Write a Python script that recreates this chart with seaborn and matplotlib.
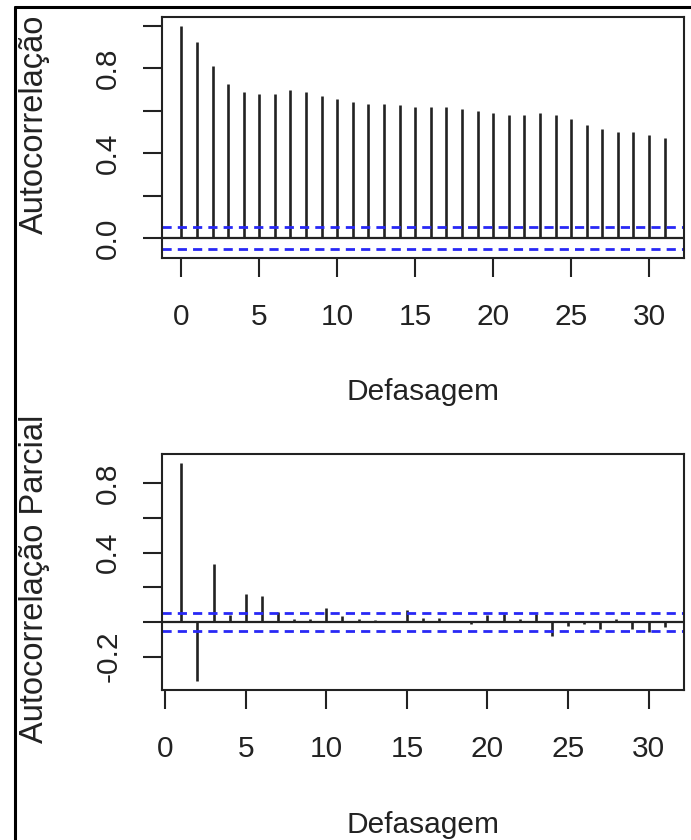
import numpy as np
import pandas as pd
import seaborn as sns
from matplotlib import pyplot as plt
from matplotlib.lines import Line2D

sns.set_theme(style="white")
plt.rcParams['font.family'] = ['Liberation Sans', 'DejaVu Sans']

INK = "#222222"
BLUE = "#2828F5"
FONT_SIZE = 21.5
YLABEL_SIZE = 23.5

# values (R acf / pacf output)
acf_lags = list(range(0, 32))
acf_values = [1.000, 0.926, 0.809, 0.724, 0.690, 0.679, 0.680, 0.699,
              0.690, 0.671, 0.654, 0.643, 0.633, 0.633, 0.625, 0.618,
              0.616, 0.616, 0.607, 0.597, 0.588, 0.580, 0.580, 0.588,
              0.580, 0.561, 0.533, 0.516, 0.498, 0.498, 0.487, 0.472]

pacf_lags = list(range(1, 32))
pacf_values = [0.919, -0.342, 0.335, 0.040, 0.164, 0.149, 0.059, 0.015,
               0.020, 0.082, 0.034, 0.020, 0.012, 0.003, 0.069, 0.025,
               0.025, 0.003, -0.012, 0.040, 0.044, 0.015, 0.044, -0.080,
               -0.023, -0.013, -0.038, 0.020, -0.038, -0.057, -0.027]

conf_bound = 0.052

x_ticks = [0, 5, 10, 15, 20, 25, 30]
acf_yticks = [0.0, 0.2, 0.4, 0.6, 0.8, 1.0]
acf_yticklabels = ["0.0", "", "0.4", "", "0.8", ""]
pacf_yticks = [-0.2, 0.0, 0.2, 0.4, 0.6, 0.8]
pacf_yticklabels = ["-0.2", "", "", "0.4", "", "0.8"]


def r_limits(lo, hi):
    # R style 4% expansion of the data range
    span = hi - lo
    return lo - 0.04 * span, hi + 0.04 * span


def draw_panel(ax, df, yticks, yticklabels, ylabel, ylabel_y, xlabel_y):
    ax.vlines(df["lag"], 0, df["value"], color=INK, lw=1.9)
    ax.axhline(0, color=INK, lw=1.6)
    for c in (conf_bound, -conf_bound):
        ax.axhline(c, color=BLUE, lw=2.0, linestyle=(0, (3.3, 2.2)))

    ax.set_xlim(*r_limits(df["lag"].min(), df["lag"].max()))
    lo = min(df["value"].min(), -conf_bound)
    hi = max(df["value"].max(), conf_bound)
    ax.set_ylim(*r_limits(lo, hi))

    ax.set_xticks(x_ticks)
    ax.set_xticklabels([str(t) for t in x_ticks])
    ax.set_yticks(yticks)
    ax.set_yticklabels(yticklabels, rotation=90, va="center")

    ax.tick_params(axis="both", direction="out", length=13.7, width=1.5,
                   color=INK, labelcolor=INK, labelsize=FONT_SIZE,
                   left=True, bottom=True)
    ax.tick_params(axis="x", pad=19)
    ax.tick_params(axis="y", pad=15)
    for s in ax.spines.values():
        s.set_color(INK)
        s.set_linewidth(1.5)
        s.set_visible(True)

    ax.set_xlabel("Defasagem", fontsize=FONT_SIZE, color=INK)
    ax.set_ylabel(ylabel, fontsize=YLABEL_SIZE, color=INK)
    ax.xaxis.set_label_coords(0.5, xlabel_y)
    ax.yaxis.set_label_coords(-0.214, ylabel_y)


acf_df = pd.DataFrame({"lag": acf_lags, "value": acf_values})
pacf_df = pd.DataFrame({"lag": pacf_lags, "value": pacf_values})

W, H = 691, 840
fig = plt.figure(figsize=(W / 100, H / 100), dpi=100)
fig.patch.set_facecolor("white")

ax1 = fig.add_axes([162 / W, (H - 258) / H, (684 - 162) / W, (258 - 17) / H])
ax2 = fig.add_axes([162 / W, (H - 690) / H, (684 - 162) / W, (690 - 454) / H])

draw_panel(ax1, acf_df, acf_yticks, acf_yticklabels, "Autocorrelação",
           ylabel_y=(258 - 124) / 241, xlabel_y=-0.498)
draw_panel(ax2, pacf_df, pacf_yticks, pacf_yticklabels, "Autocorrelação Parcial",
           ylabel_y=(690 - 579) / 236, xlabel_y=-0.513)

# outer frame of the original figure (left and top edges)
top = (H - 7) / H
left = 15 / W
fig.add_artist(Line2D([left, left], [0, top], transform=fig.transFigure,
                      color="black", lw=2.2))
fig.add_artist(Line2D([left, 1], [top, top], transform=fig.transFigure,
                      color="black", lw=2.2))

fig.savefig("out.png", dpi=100)
